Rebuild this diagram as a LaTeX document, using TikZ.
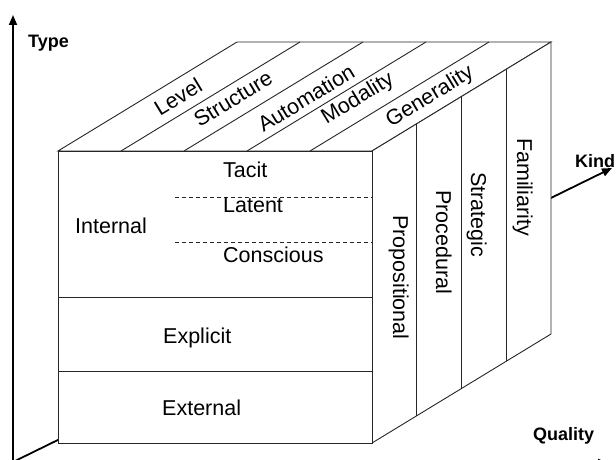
\documentclass[tikz,border=0pt]{standalone}
\usepackage{fontspec}
\setmainfont{Liberation Sans}
\usetikzlibrary{arrows.meta}
\begin{document}
\begin{tikzpicture}[x=1pt,y=-1pt,
  axis/.style={line width=1.8pt,-{Triangle[length=10pt,width=8pt]}},
  edge/.style={line width=0.9pt, draw=black!85},
  dashline/.style={line width=0.8pt, draw=black!85, dash pattern=on 4pt off 3pt},
  lbl/.style={font=\fontsize{21.5}{25}\selectfont, inner sep=0pt},
  axlbl/.style={font=\fontsize{18}{22}\selectfont\bfseries, inner sep=0pt, anchor=base west},
  toplbl/.style={lbl, rotate=31.3, anchor=center},
  sidelbl/.style={lbl, rotate=-90, anchor=base west},
  frontlbl/.style={lbl, anchor=base west}]
\useasboundingbox (0,0) rectangle (616,460);
% axes
\coordinate (O) at (13,462);
\coordinate (Ytip) at (13,15);
\coordinate (Xtip) at (608,463);
\coordinate (Ktip) at (612,168);
\draw[axis] (O) -- (Ytip);
\draw[axis] (O) -- (Xtip);
\draw[axis] (O) -- (Ktip);
\node[axlbl] (type) at (28,48) {Type};
\node[axlbl] (kind) at (575,167) {Kind};
\node[axlbl] (quality) at (533,440) {Quality};
% cube
\coordinate (A) at (58,151);
\coordinate (B) at (372,151);
\coordinate (C) at (372,443);
\coordinate (D) at (58,443);
\coordinate (E) at (237,42);
\coordinate (F) at (551,42);
\coordinate (G) at (551,334);
\filldraw[edge, fill=white] (A) -- (E) -- (F) -- (B) -- cycle;
\filldraw[edge, fill=white] (B) -- (F) -- (G) -- (C) -- cycle;
\filldraw[edge, fill=white] (A) -- (B) -- (C) -- (D) -- cycle;
% top strips
\foreach \x in {121,184,247,310} {\draw[edge] (\x,151) -- ++(179,-109);}
% side strips
\foreach \k in {1,2,3} {\draw[edge] (372+44.75*\k,151-27.25*\k) -- (372+44.75*\k,443-27.25*\k);}
% front divisions
\draw[edge] (58,297) -- (372,297);
\draw[edge] (58,371) -- (372,371);
\draw[dashline] (175,197) -- (372,197);
\draw[dashline] (175,242) -- (372,242);
% front labels
\node[frontlbl] (tacit) at (223,177) {Tacit};
\node[frontlbl] (latent) at (223,212) {Latent};
\node[frontlbl] (conscious) at (223,262) {Conscious};
\node[frontlbl] (internal) at (75,233) {Internal};
\node[frontlbl] (explicit) at (163,343) {Explicit};
\node[frontlbl] (external) at (162,415) {External};
% top labels
\node[toplbl] (level) at (178,97) {Level};
\node[toplbl] (structure) at (233,99) {Structure};
\node[toplbl] (automation) at (306,98) {Automation};
\node[toplbl] (modality) at (358,99) {Modality};
\node[toplbl] (generality) at (430,97) {Generality};
% side labels
\node[sidelbl] (prop) at (393,215) {Propositional};
\node[sidelbl] (proc) at (436,190) {Procedural};
\node[sidelbl] (strat) at (471,172) {Strategic};
\node[sidelbl] (fam) at (517,138) {Familiarity};
\end{tikzpicture}
\end{document}
